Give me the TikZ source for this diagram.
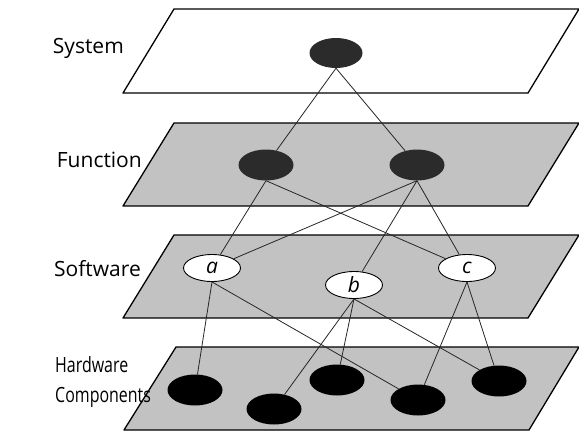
\documentclass[tikz,border=0pt]{standalone}
\usepackage{fontspec}
\setmainfont{Open Sans}
\usetikzlibrary{shapes.geometric}
\definecolor{planegray}{gray}{0.76}
\definecolor{darknode}{gray}{0.17}
\definecolor{linkgray}{gray}{0.15}
\begin{document}
\begin{tikzpicture}[x=1pt,y=-1pt,
  plane/.style={draw=black, line width=1.3pt, line join=round},
  grayplane/.style={plane, fill=planegray},
  whiteplane/.style={plane, fill=white},
  blob/.style={ellipse, inner sep=0pt, minimum width=55pt, minimum height=31pt},
  darkblob/.style={blob, fill=darknode},
  hwblob/.style={blob, fill=black},
  swblob/.style={ellipse, inner sep=0pt, minimum width=57pt, minimum height=27pt,
    draw=black, line width=0.9pt, fill=white, font=\fontsize{21}{24}\selectfont\itshape},
  lbl/.style={inner sep=0pt, font=\fontsize{21}{30}\selectfont},
  link/.style={draw=linkgray, line width=0.8pt}]
\useasboundingbox (0,0) rectangle (579,432);

% planes
\draw[whiteplane] (123,93) -- (528,93) -- (579,9) -- (174,9) -- cycle;
\draw[grayplane] (123,206) -- (528,206) -- (579,123) -- (174,123) -- cycle;
\draw[grayplane] (123,318) -- (528,318) -- (579,235) -- (174,235) -- cycle;
\draw[grayplane] (124,430) -- (529,430) -- (579,347) -- (176,347) -- cycle;

% labels
\node[lbl, anchor=base east] (lsys) at (124,53) {System};
\node[lbl, anchor=base east] (lfun) at (142,167) {Function};
\node[lbl, anchor=base east] (lsw) at (141,276) {Software};
\node[lbl, anchor=south west, align=left] (lhw) at (55,408)
  {\scalebox{0.76}[1]{Hardware}\\\scalebox{0.76}[1]{Components}};

% nodes
\node[darkblob, minimum width=53pt, minimum height=30pt] (S) at (336,53) {};
\node[darkblob] (F1) at (266,165) {};
\node[darkblob] (F2) at (417,165) {};
\node[swblob] (a) at (212,268) {a};
\node[swblob] (b) at (354,285) {b};
\node[swblob] (c) at (467,268) {c};
\node[hwblob] (H1) at (195,390) {};
\node[hwblob] (H2) at (274,409) {};
\node[hwblob] (H3) at (337,380) {};
\node[hwblob] (H4) at (418,400) {};
\node[hwblob] (H5) at (499,381) {};

% connectors
\draw[link] (S.south) -- (F1);
\draw[link] (S.south) -- (F2);
\draw[link] (F1.south) -- (a);
\draw[link] (F1.south) -- (c);
\draw[link] (F2.south) -- (a);
\draw[link] (F2.south) -- (b);
\draw[link] (F2.south) -- (c);
\draw[link] (a.south) -- (H1);
\draw[link] (a.south) -- (H4);
\draw[link] (b.south) -- (H2);
\draw[link] (b.south) -- (H3);
\draw[link] (b.south) -- (H5);
\draw[link] (c.south) -- (H4);
\draw[link] (c.south) -- (H5);
\end{tikzpicture}
\end{document}
